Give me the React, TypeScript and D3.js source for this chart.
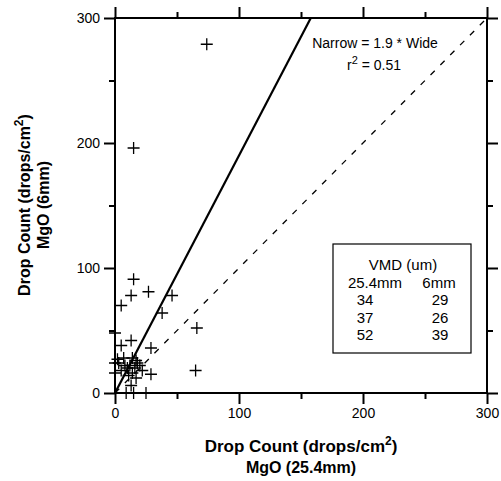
import { useEffect, useRef } from 'react';
import * as d3 from 'd3';

// Drop counts: wide (25.4mm) vs narrow (6mm) nozzle
const wide = [74, 15, 15, 13, 27, 46, 5, 38, 0, 13, 66, 5, 29, 2, 17, 0, 22, 65, 13, 9, 15, 25, 3, 8, 10, 12, 14, 16, 18, 5, 11, 14, 20, 7, 29, 17, 0];
const narrow = [279, 196, 91, 78, 81, 78, 70, 64, 48, 42, 52, 38, 36, 27, 26, 16, 18, 18, 6, 0, 0, 0, 24, 22, 20, 22, 28, 20, 24, 18, 14, 16, 22, 28, 15, 12, 24];
const slope = 1.9;
const majorTicks = [0, 100, 200, 300];
const minorTicks = [50, 150, 250];
const vmdRows = [['34', '29'], ['37', '26'], ['52', '39']];

export default function App() {
  const svgRef = useRef(null);

  useEffect(() => {
    const svg = d3.select(svgRef.current);
    svg.selectAll('*').remove();

    const x = d3.scaleLinear().domain([0, 300]).range([115, 487]);
    const y = d3.scaleLinear().domain([0, 300]).range([393, 18]);
    const font = 'Liberation Sans, Arial, sans-serif';

    const g = svg.append('g');

    // 1:1 dashed reference
    g.append('line')
      .attr('x1', x(0)).attr('y1', y(0))
      .attr('x2', x(300)).attr('y2', y(300))
      .attr('stroke', '#000').attr('stroke-width', 1.3)
      .attr('stroke-dasharray', '6,8');

    // fitted line through origin
    g.append('line')
      .attr('x1', x(0)).attr('y1', y(0))
      .attr('x2', x(300 / slope)).attr('y2', y(300))
      .attr('stroke', '#000').attr('stroke-width', 2.2);

    // points as plus markers
    const pts = wide.map((w, i) => ({ w, n: narrow[i] }));
    const s = 6;
    g.selectAll('.pt')
      .data(pts)
      .enter().append('path')
      .attr('class', 'pt')
      .attr('d', d => `M${x(d.w) - s},${y(d.n)}H${x(d.w) + s}M${x(d.w)},${y(d.n) - s}V${y(d.n) + s}`)
      .attr('stroke', '#000').attr('stroke-width', 1.3).attr('fill', 'none');

    // axes (box with outward ticks on all sides)
    const axisStyle = (sel, withLabels) => {
      sel.select('.domain').remove();
      sel.selectAll('line').attr('stroke', '#000').attr('stroke-width', 2);
      sel.selectAll('text').style('font-family', font).style('font-size', '14px').attr('fill', '#000');
      if (!withLabels) sel.selectAll('text').remove();
    };

    const addAxis = (gen, scale, transform, labels) => {
      const major = svg.append('g').attr('transform', transform)
        .call(gen(scale).tickValues(majorTicks).tickSize(11).tickPadding(4).tickFormat(d3.format('d')));
      axisStyle(major, labels);
      const minor = svg.append('g').attr('transform', transform)
        .call(gen(scale).tickValues(minorTicks).tickSize(6).tickFormat(() => ''));
      axisStyle(minor, false);
    };

    addAxis(d3.axisBottom, x, `translate(0,${y(0)})`, true);
    addAxis(d3.axisTop, x, `translate(0,${y(300)})`, false);
    addAxis(d3.axisLeft, y, `translate(${x(0)},0)`, true);
    addAxis(d3.axisRight, y, `translate(${x(300)},0)`, false);

    svg.append('rect')
      .attr('x', x(0)).attr('y', y(300))
      .attr('width', x(300) - x(0)).attr('height', y(0) - y(300))
      .attr('fill', 'none').attr('stroke', '#000').attr('stroke-width', 2);

    // annotation
    svg.append('text')
      .attr('x', 375).attr('y', 48)
      .attr('text-anchor', 'middle')
      .style('font-family', font).style('font-size', '14px')
      .text('Narrow  = 1.9 * Wide');
    const r2 = svg.append('text')
      .attr('x', 374).attr('y', 70)
      .attr('text-anchor', 'middle')
      .style('font-family', font).style('font-size', '14px');
    r2.append('tspan').text('r');
    r2.append('tspan').attr('dy', -6).style('font-size', '11px').text('2');
    r2.append('tspan').attr('dy', 6).text(' = 0.51');

    // VMD box
    svg.append('rect')
      .attr('x', 333).attr('y', 244).attr('width', 138).attr('height', 109)
      .attr('fill', '#fff').attr('stroke', '#000').attr('stroke-width', 1.2);
    const t = (tx, ty, str) => svg.append('text')
      .attr('x', tx).attr('y', ty).attr('text-anchor', 'middle')
      .style('font-family', font).style('font-size', '15px').text(str);
    t(403, 270, 'VMD (um)');
    t(375, 288, '25.4mm');
    t(439, 288, '6mm');
    vmdRows.forEach((r, i) => {
      t(365, 305 + i * 17.5, r[0]);
      t(440, 305 + i * 17.5, r[1]);
    });

    // axis titles
    const title = (sel, size) => sel.append('text').attr('text-anchor', 'middle')
      .style('font-family', font).style('font-size', `${size}px`).style('font-weight', 'bold');

    const xt = title(svg, 17).attr('x', 301).attr('y', 452);
    xt.append('tspan').text('Drop Count (drops/cm');
    xt.append('tspan').attr('dy', -7).style('font-size', '12px').text('2');
    xt.append('tspan').attr('dy', 7).text(')');
    title(svg, 16).attr('x', 301).attr('y', 473).text('MgO (25.4mm)');

    const yt = title(svg, 16).attr('transform', 'translate(30,205) rotate(-90)');
    yt.append('tspan').text('Drop Count (drops/cm');
    yt.append('tspan').attr('dy', -7).style('font-size', '12px').text('2');
    yt.append('tspan').attr('dy', 7).text(')');
    title(svg, 16).attr('transform', 'translate(49,205) rotate(-90)').text('MgO (6mm)');
  }, []);

  return (
    <svg ref={svgRef} width={501} height={481}
      style={{ position: 'absolute', left: 0, top: 0, background: '#fff' }} />
  );
}
